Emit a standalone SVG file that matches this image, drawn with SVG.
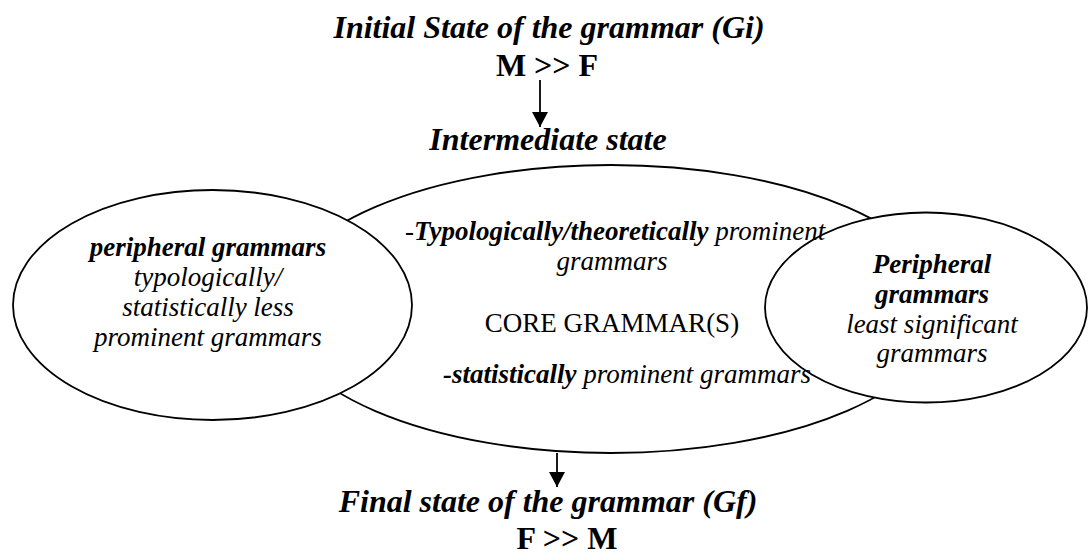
<svg xmlns="http://www.w3.org/2000/svg" width="1090" height="555" viewBox="0 0 1090 555">
<style>
text{font-family:"Liberation Serif","Times New Roman",serif;fill:#000}
.h{font-size:32px;font-weight:bold;font-style:italic}
.hb{font-size:32px;font-weight:bold}
.t{font-size:27px;font-style:italic}
.r{font-size:27px}
.b{font-weight:bold}
.e{fill:#fff;stroke:#000;stroke-width:1.8}
.c{stroke:#000;stroke-width:1.8;fill:none}
</style>
<defs>
<marker id="ah" markerWidth="16" markerHeight="16" refX="15" refY="8" orient="auto" markerUnits="userSpaceOnUse" viewBox="0 0 16 16">
<path d="M0,0 L15,8 L0,16 Z" fill="#000"/>
</marker>
</defs>
<g id="initial">
<text class="h" x="549" y="38" text-anchor="middle">Initial State of the grammar (Gi)</text>
<text class="hb" x="547" y="76" text-anchor="middle">M &gt;&gt; F</text>
</g>
<g id="intermediate-label">
<text class="h" x="548" y="150" text-anchor="middle">Intermediate state</text>
</g>
<g id="core">
<ellipse class="e" cx="611" cy="309" rx="334" ry="144"/>
</g>
<g id="left-periphery">
<ellipse class="e" cx="212.5" cy="305" rx="199.5" ry="115"/>
</g>
<g id="right-periphery">
<ellipse class="e" cx="926" cy="307.5" rx="161" ry="95"/>
</g>
<g id="connectors">
<line class="c" x1="540" y1="80" x2="540" y2="127" marker-end="url(#ah)"/>
<line class="c" x1="557" y1="453" x2="557" y2="487" marker-end="url(#ah)"/>
</g>
<g id="core-text">
<text class="t" x="405" y="240"><tspan font-style="normal">-</tspan><tspan class="b">Typologically/theoretically</tspan> prominent</text>
<text class="t" x="612" y="270" text-anchor="middle">grammars</text>
<text class="r" x="612" y="332" text-anchor="middle">CORE GRAMMAR(S)</text>
<text class="t" x="443" y="383"><tspan class="b">-statistically</tspan> prominent grammars</text>
</g>
<g id="left-text">
<text class="t b" x="208" y="256" text-anchor="middle">peripheral grammars</text>
<text class="t" x="208" y="286" text-anchor="middle">typologically/</text>
<text class="t" x="208" y="316" text-anchor="middle">statistically less</text>
<text class="t" x="208" y="346" text-anchor="middle">prominent grammars</text>
</g>
<g id="right-text">
<text class="t b" x="932" y="273" text-anchor="middle">Peripheral</text>
<text class="t b" x="932" y="303" text-anchor="middle">grammars</text>
<text class="t" x="932" y="333" text-anchor="middle">least significant</text>
<text class="t" x="932" y="362" text-anchor="middle">grammars</text>
</g>
<g id="final">
<text class="h" x="548" y="512" text-anchor="middle">Final state of the grammar (Gf)</text>
<text class="hb" x="567" y="549" text-anchor="middle">F &gt;&gt; M</text>
</g>
</svg>
